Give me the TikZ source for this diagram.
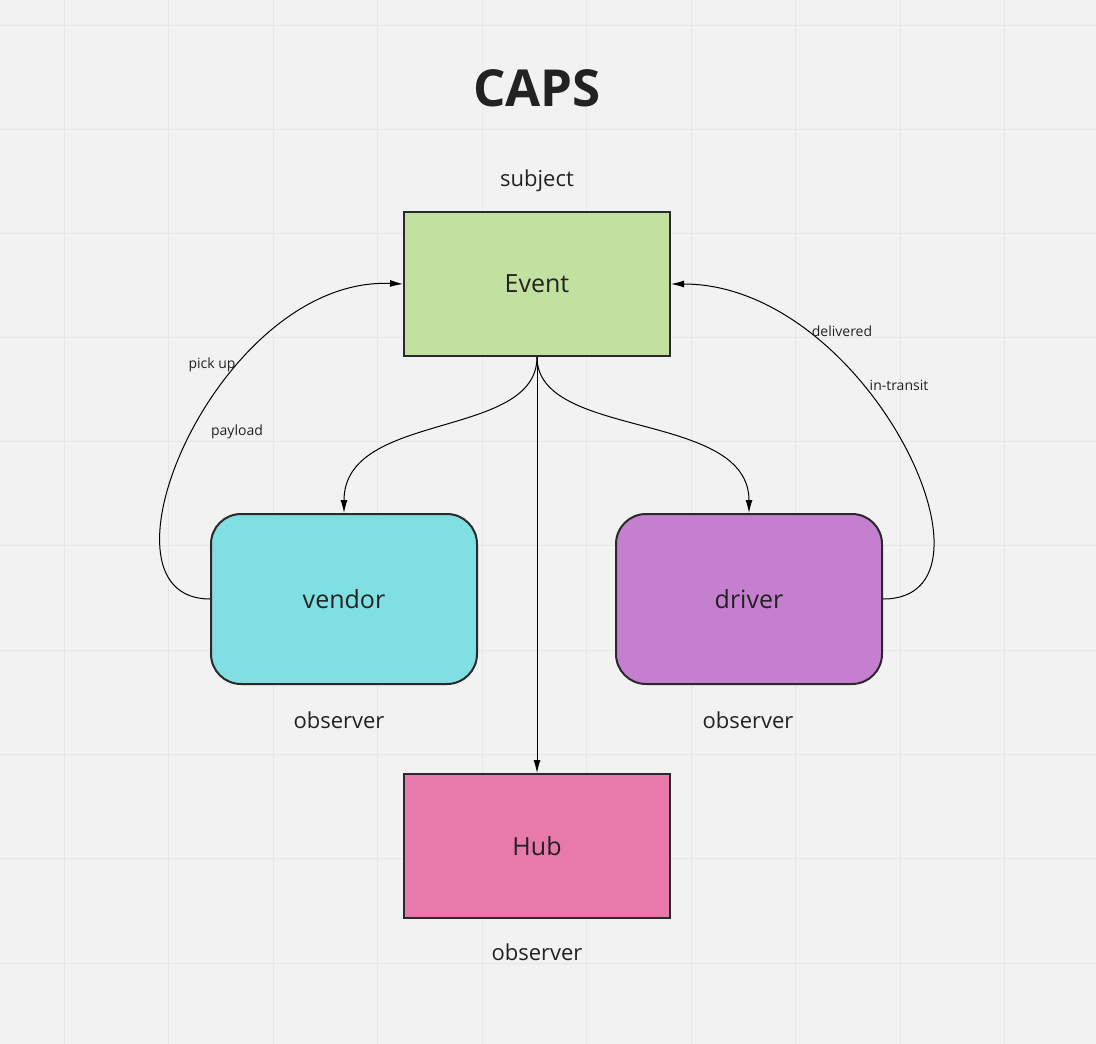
\documentclass[tikz,border=0pt]{standalone}
\usepackage{fontspec}
\setmainfont{Open Sans}
\usetikzlibrary{arrows.meta}
\definecolor{bg}{HTML}{F2F2F2}
\definecolor{gridc}{HTML}{E7E7E7}
\definecolor{ink}{HTML}{222222}
\definecolor{bordc}{HTML}{2A2A2A}
\definecolor{eventc}{HTML}{C2E1A0}
\definecolor{vendorc}{HTML}{80DFE3}
\definecolor{driverc}{HTML}{C47FCF}
\definecolor{hubc}{HTML}{E77AAB}
\tikzset{
  box/.style={draw=bordc, line width=2pt, minimum width=266pt, minimum height=144pt, inner sep=0pt, text=ink, font=\fontsize{25}{30}\selectfont},
  rbox/.style={box, rounded corners=30pt, minimum height=170pt},
  captxt/.style={text=ink, font=\fontsize{22}{26}\selectfont, inner sep=0pt},
  lab/.style={text=ink, font=\fontsize{14}{17}\selectfont, inner sep=0pt},
  conn/.style={draw=black, line width=1pt, -{Latex[length=13pt,width=7pt]}},
}
\begin{document}
\begin{tikzpicture}[x=1pt,y=-1pt]
\fill[bg] (0,0) rectangle (1096,1044);
\useasboundingbox (0,0) rectangle (1096,1044);
\foreach \gx in {64,168.5,273,377.5,482,586.5,691,795.5,900,1004.5}
  \draw[gridc, line width=1pt] (\gx,0) -- (\gx,1044);
\foreach \gy in {25,129,233,337,441,545,650,754,858,963}
  \draw[gridc, line width=1pt] (0,\gy) -- (1096,\gy);

\node[text=ink, font=\bfseries\fontsize{51}{60}\selectfont, inner sep=0pt] (title) at (537,88) {CAPS};
\node[captxt] (subj) at (537,181) {subject};

\node[box, fill=eventc] (event) at (537,284) {Event};
\node[rbox, fill=vendorc] (vendor) at (344,599) {vendor};
\node[rbox, fill=driverc] (driver) at (749,599) {driver};
\node[box, fill=hubc] (hub) at (537,846) {Hub};

\node[captxt] (obs1) at (339,720) {observer};
\node[captxt] (obs2) at (748,720) {observer};
\node[captxt] (obs3) at (537,952) {observer};

\coordinate (eb) at (537,357);
\draw[conn] (eb) -- (hub.north);
\draw[conn] (eb) .. controls (537,440) and (344,410) .. (vendor.north);
\draw[conn] (eb) .. controls (537,440) and (749,410) .. (driver.north);

\coordinate (vl) at (210,599);
\coordinate (el) at (403,284);
\draw[conn] (vl) .. controls (82,599) and (218,276) .. (el);
\coordinate (dr) at (883,599);
\coordinate (er) at (671,284);
\draw[conn] (dr) .. controls (1016,599) and (868,284) .. (er);

\node[lab] (l1) at (212,365) {pick up};
\node[lab] (l2) at (237,432) {payload};
\node[lab] (l3) at (842,331) {delivered};
\node[lab] (l4) at (899,385) {in-transit};
\end{tikzpicture}
\end{document}
